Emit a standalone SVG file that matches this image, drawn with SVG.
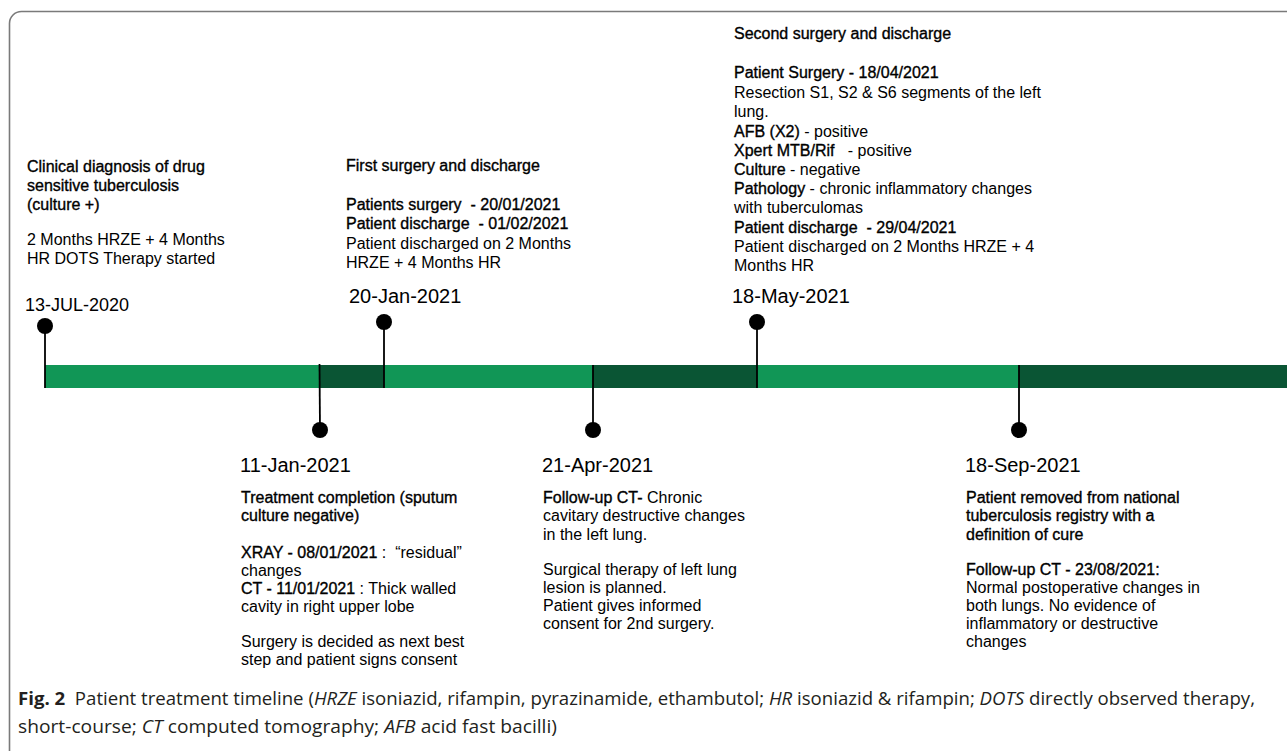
<svg xmlns="http://www.w3.org/2000/svg" width="1287" height="751" viewBox="0 0 1287 751">
<style>
.t{font-family:"Liberation Sans",Arial,sans-serif;font-size:16px;fill:#000}
.m{stroke:#000;stroke-width:0.35px}
.d{font-family:"Liberation Sans",Arial,sans-serif;font-size:20px;fill:#000}
.lt{fill:#119656}
.dk{fill:#0a5534}
.stem{stroke:#000;stroke-width:1.8;fill:none}
.dot{fill:#000}
.cap{font-family:"Open Sans","Liberation Sans",sans-serif;font-size:18px;fill:#231f20}
</style>
<rect x="9.5" y="11.5" width="1300" height="760" rx="12" fill="#fff" stroke="#7a7a7a" stroke-width="1.6"/>

<g id="timeline-bar">
<rect class="lt" x="45" y="365" width="274" height="23"/>
<rect class="dk" x="319" y="365" width="65" height="23"/>
<rect class="lt" x="384" y="365" width="209" height="23"/>
<rect class="dk" x="593" y="365" width="164" height="23"/>
<rect class="lt" x="757" y="365" width="262" height="23"/>
<rect class="dk" x="1019" y="365" width="268" height="23"/>
</g>

<g id="connectors">
<line class="stem" x1="45" y1="326" x2="45" y2="388"/>
<line class="stem" x1="384" y1="322" x2="384" y2="388"/>
<line class="stem" x1="757" y1="322" x2="757" y2="388"/>
<line class="stem" x1="319.5" y1="364" x2="320" y2="430"/>
<line class="stem" x1="593" y1="365" x2="593" y2="430"/>
<line class="stem" x1="1019" y1="365" x2="1019" y2="430"/>
</g>

<g id="node-2020-07-13">
<ellipse class="dot" cx="45" cy="326" rx="8" ry="8"/>
<text class="t m" x="27" y="172">Clinical diagnosis of drug</text>
<text class="t m" x="27" y="191">sensitive tuberculosis</text>
<text class="t m" x="27" y="210">(culture +)</text>
<text class="t" x="27" y="245">2 Months HRZE + 4 Months</text>
<text class="t" x="27" y="264">HR DOTS Therapy started</text>
<text class="t" x="25" y="311" style="font-size:18px">13-JUL-2020</text>
</g>

<g id="node-2021-01-20">
<ellipse class="dot" cx="384" cy="322" rx="8" ry="8"/>
<text class="t m" x="346" y="171">First surgery and discharge</text>
<text class="t m" x="346" y="210" xml:space="preserve">Patients surgery  - 20/01/2021</text>
<text class="t m" x="346" y="229" xml:space="preserve">Patient discharge  - 01/02/2021</text>
<text class="t" x="346" y="249">Patient discharged on 2 Months</text>
<text class="t" x="346" y="268">HRZE + 4 Months HR</text>
<text class="d" x="349" y="303">20-Jan-2021</text>
</g>

<g id="node-2021-05-18">
<ellipse class="dot" cx="757" cy="322" rx="8" ry="8"/>
<text class="t m" x="734" y="39">Second surgery and discharge</text>
<text class="t m" x="734" y="78">Patient Surgery - 18/04/2021</text>
<text class="t" x="734" y="98">Resection S1, S2 &amp; S6 segments of the left</text>
<text class="t" x="734" y="117">lung.</text>
<text class="t" x="734" y="137" xml:space="preserve"><tspan class="m">AFB (X2)</tspan> - positive</text>
<text class="t" x="734" y="156" xml:space="preserve"><tspan class="m">Xpert MTB/Rif</tspan>   - positive</text>
<text class="t" x="734" y="175" xml:space="preserve"><tspan class="m">Culture</tspan> - negative</text>
<text class="t" x="734" y="194" xml:space="preserve"><tspan class="m">Pathology</tspan> - chronic inflammatory changes</text>
<text class="t" x="734" y="213">with tuberculomas</text>
<text class="t m" x="734" y="233" xml:space="preserve">Patient discharge  - 29/04/2021</text>
<text class="t" x="734" y="252">Patient discharged on 2 Months HRZE + 4</text>
<text class="t" x="734" y="271">Months HR</text>
<text class="d" x="732" y="303">18-May-2021</text>
</g>

<g id="node-2021-01-11">
<ellipse class="dot" cx="320" cy="430" rx="8" ry="8"/>
<text class="d" x="240" y="472">11-Jan-2021</text>
<text class="t m" x="241" y="503">Treatment completion (sputum</text>
<text class="t m" x="241" y="521">culture negative)</text>
<text class="t" x="241" y="558" xml:space="preserve"><tspan class="m">XRAY - 08/01/2021</tspan> :  “residual”</text>
<text class="t" x="241" y="576">changes</text>
<text class="t" x="241" y="594" xml:space="preserve"><tspan class="m">CT - 11/01/2021</tspan> : Thick walled</text>
<text class="t" x="241" y="612">cavity in right upper lobe</text>
<text class="t" x="241" y="647">Surgery is decided as next best</text>
<text class="t" x="241" y="665">step and patient signs consent</text>
</g>

<g id="node-2021-04-21">
<ellipse class="dot" cx="593" cy="430" rx="8" ry="8"/>
<text class="d" x="542" y="472">21-Apr-2021</text>
<text class="t" x="543" y="503" xml:space="preserve"><tspan class="m">Follow-up CT-</tspan> Chronic</text>
<text class="t" x="543" y="521">cavitary destructive changes</text>
<text class="t" x="543" y="540">in the left lung.</text>
<text class="t" x="543" y="575">Surgical therapy of left lung</text>
<text class="t" x="543" y="593">lesion is planned.</text>
<text class="t" x="543" y="611">Patient gives informed</text>
<text class="t" x="543" y="629">consent for 2nd surgery.</text>
</g>

<g id="node-2021-09-18">
<ellipse class="dot" cx="1019" cy="430" rx="8" ry="8"/>
<text class="d" x="965" y="472">18-Sep-2021</text>
<text class="t m" x="966" y="503">Patient removed from national</text>
<text class="t m" x="966" y="521">tuberculosis registry with a</text>
<text class="t m" x="966" y="540">definition of cure</text>
<text class="t m" x="966" y="575">Follow-up CT - 23/08/2021:</text>
<text class="t" x="966" y="593">Normal postoperative changes in</text>
<text class="t" x="966" y="611">both lungs. No evidence of</text>
<text class="t" x="966" y="629">inflammatory or destructive</text>
<text class="t" x="966" y="647">changes</text>
</g>

<g id="caption">
<text class="cap" x="18" y="705" textLength="1237" lengthAdjust="spacingAndGlyphs" xml:space="preserve"><tspan font-weight="bold">Fig. 2</tspan>  Patient treatment timeline (<tspan font-style="italic">HRZE</tspan> isoniazid, rifampin, pyrazinamide, ethambutol; <tspan font-style="italic">HR</tspan> isoniazid &amp; rifampin; <tspan font-style="italic">DOTS</tspan> directly observed therapy,</text>
<text class="cap" x="18" y="733" textLength="539" lengthAdjust="spacingAndGlyphs" xml:space="preserve">short-course; <tspan font-style="italic">CT</tspan> computed tomography; <tspan font-style="italic">AFB</tspan> acid fast bacilli)</text>
</g>
</svg>
